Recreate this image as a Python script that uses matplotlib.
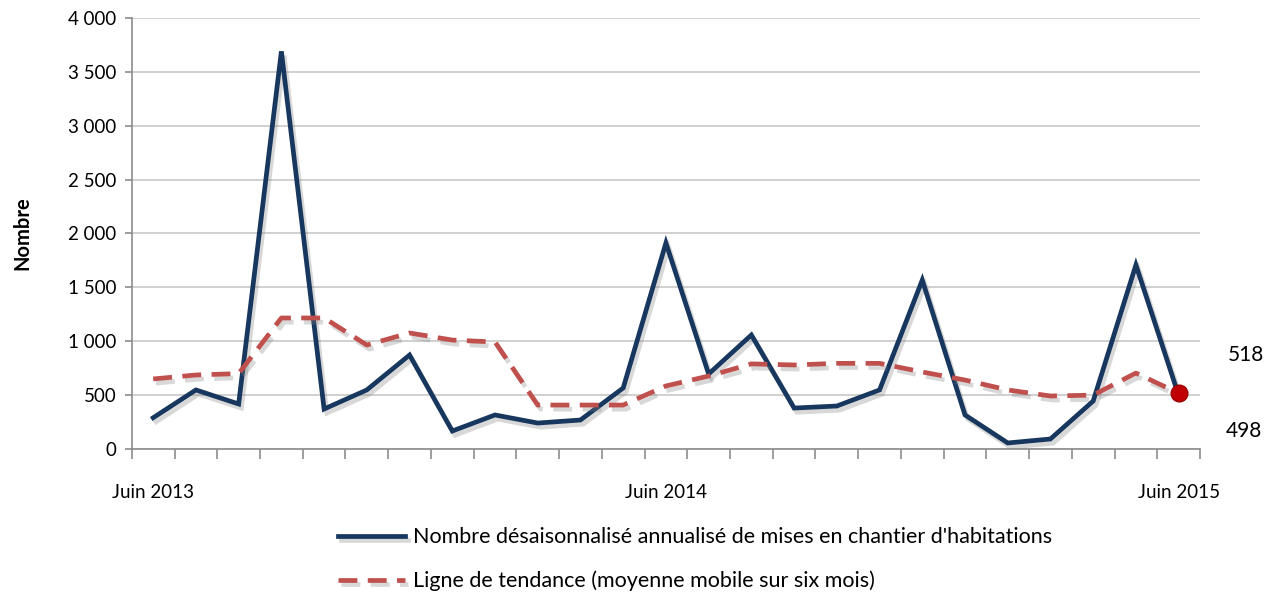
import numpy as np
import matplotlib
matplotlib.use('Agg')
from matplotlib import pyplot as plt
from matplotlib import patheffects as pe
from matplotlib.ticker import FuncFormatter

plt.rcParams['font.family'] = ['Lato', 'DejaVu Sans']

# mises en chantier, juin 2013 a juin 2015 (mensuel)
mises = [290, 548, 418, 3690, 371, 548, 872, 167, 316, 241, 269, 566, 1912,
         696, 1058, 380, 399, 548, 1568, 316, 56, 93, 445, 1708, 498]
tendance = [650, 687, 700, 1216, 1216, 965, 1077, 1011, 993, 408, 408, 408, 585,
            677, 790, 780, 795, 795, 715, 640, 548, 492, 500, 705, 518]
etiquettes = {0: 'Juin 2013', 12: 'Juin 2014', 24: 'Juin 2015'}

bleu = '#17375E'
rouge = '#C0504D'

fig = plt.figure(figsize=(12.8, 5.99), dpi=100)
ax = fig.add_axes([0.103, 0.2504, 0.8345, 0.7196])

x = np.arange(len(mises))
ombre = [pe.SimpleLineShadow(offset=(2, -3), shadow_color='gray', alpha=0.3), pe.Normal()]

l1, = ax.plot(x, mises, color=bleu, lw=3.4, solid_joinstyle='miter',
              path_effects=ombre, zorder=3,
              label="Nombre désaisonnalisé annualisé de mises en chantier d'habitations")
l2, = ax.plot(x, tendance, color=rouge, lw=3.4, dashes=(4, 2.2),
              path_effects=ombre, zorder=4,
              label='Ligne de tendance (moyenne mobile sur six mois)')
ax.plot(x[-1], tendance[-1], 'o', ms=12, color='#C00000', mec='#A00000', zorder=5)

ax.text(24.5 + 0.65, tendance[-1] + 350, str(tendance[-1]), fontsize=15, ha='left', va='center',
        clip_on=False)
ax.text(24.5 + 0.6, mises[-1] - 330, str(mises[-1]), fontsize=15, ha='left', va='center',
        clip_on=False)

ax.set_xlim(-0.5, 24.5)
ax.set_ylim(0, 4000)
ax.set_yticks(np.arange(0, 4001, 500))
ax.yaxis.set_major_formatter(FuncFormatter(lambda v, p: f'{int(v):,}'.replace(',', ' ')))
ax.grid(axis='y', color='#C8C8C8', lw=1.2)
ax.set_axisbelow(True)

ax.set_xticks(np.arange(-0.5, 25, 1))
ax.set_xticklabels([])
ax.tick_params(axis='x', direction='out', length=7, color='#8C8C8C', width=1.2)
ax.tick_params(axis='y', direction='out', length=5, color='#8C8C8C', width=1.2, labelsize=13.5, pad=6)
for i, t in etiquettes.items():
    ax.text(i, -400, t, ha='center', va='center', fontsize=13.5)

for s in ['top', 'right']:
    ax.spines[s].set_visible(False)
for s in ['left', 'bottom']:
    ax.spines[s].set_color('#8C8C8C')
    ax.spines[s].set_linewidth(1.2)

ax.set_ylabel('Nombre', fontsize=14.5, fontweight='bold', labelpad=26)

fig.legend(handles=[l1, l2], loc='upper left', bbox_to_anchor=(0.256, 0.138),
           frameon=False, fontsize=15.5, handlelength=3.1, labelspacing=1.1,
           handletextpad=0.35, borderpad=0)

fig.savefig('out.png', dpi=100)
